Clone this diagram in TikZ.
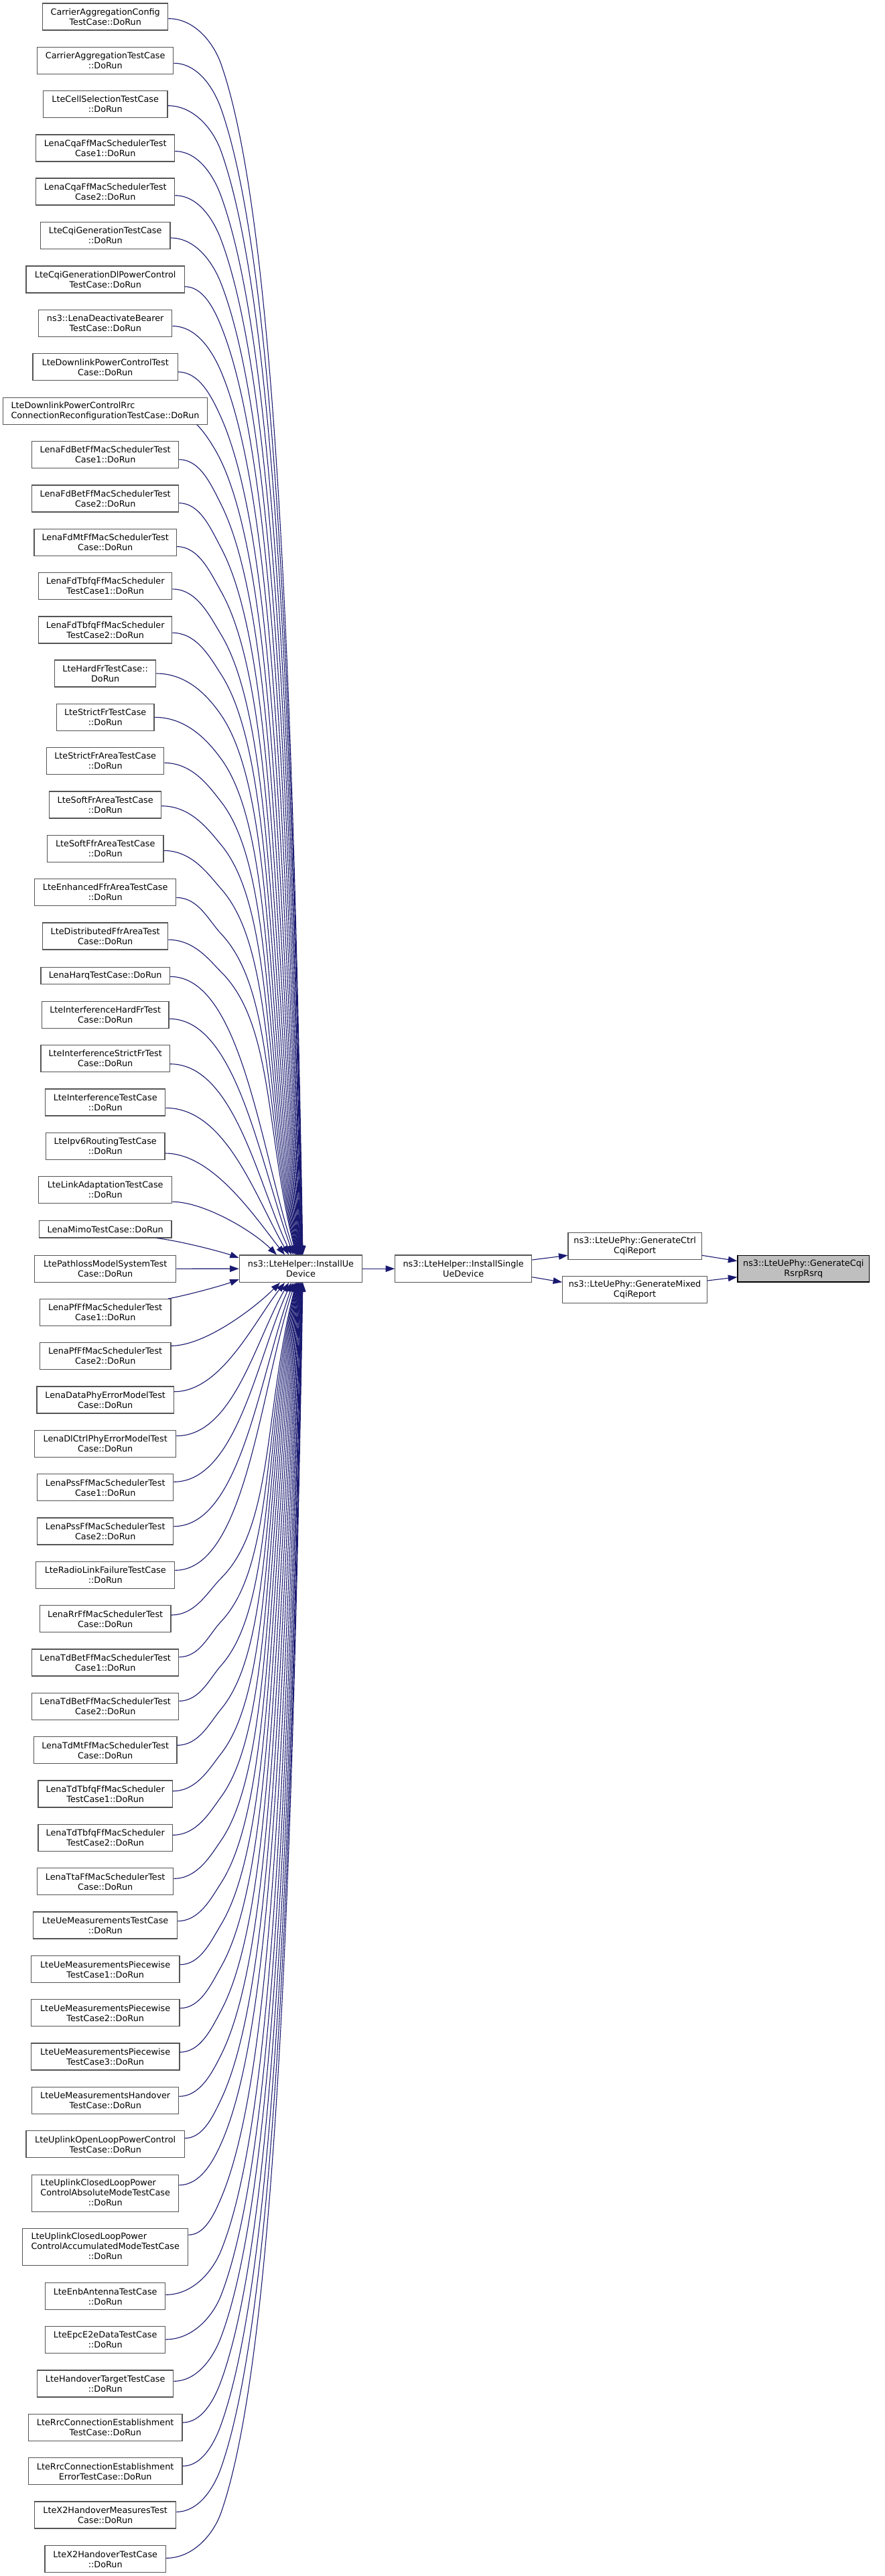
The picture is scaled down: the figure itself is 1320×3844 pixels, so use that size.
\documentclass[tikz,border=0pt]{standalone}
\usepackage{fontspec}
\setmainfont{DejaVu Sans}
\usetikzlibrary{arrows.meta,calc}
\definecolor{edgeblue}{HTML}{191970}
\definecolor{nodegray}{HTML}{555555}
\definecolor{focalfill}{HTML}{BFBFBF}
\newcommand\lnd[5]{\node[box, minimum width=#2pt, minimum height=#3pt] (n#1) at (157.2,#4) {#5};}
% far edge: #1 id, #2 rank, #3 sign, #4 yc, #5 xr, #6 dy, #7 dk, #8 anchor
\newcommand\faredge[8]{%
 \pgfmathsetmacro\fsy{#4+#6}%
 \pgfmathsetmacro\fky{\fsy+(#3)*#7}%
 \pgfmathsetmacro\fey{ifthenelse(#3>0,1873,1913.3)}%
 \pgfmathsetmacro\fxe{452-#2*10/21}%
 \pgfmathsetmacro\fD{abs(\fey-\fky)}%
 \pgfmathsetmacro\frr{0.35+0.0015*#2*#2}%
 \pgfmathsetmacro\fLo{min(0.3*\fD,0.7*(\fxe-330)/\frr)}%
 \pgfmathsetmacro\fpax{330+\frr*\fLo}%
 \pgfmathsetmacro\fpay{\fky+(#3)*\fLo}%
 \pgfmathsetmacro\fang{89-13*(#2/21)^2}%
 \pgfmathsetmacro\fLt{0.45*\fD}%
 \pgfmathsetmacro\fpbx{\fxe-\fLt*cos(\fang)}%
 \pgfmathsetmacro\fpby{\fey-(#3)*\fLt*sin(\fang)}%
 \pgfmathsetmacro\fcax{#5+0.5*(330-#5)}%
 \pgfmathsetmacro\fnn{sqrt(1+\frr*\frr)}%
 \pgfmathsetmacro\fcbx{330-0.5*#7*\frr/\fnn}%
 \pgfmathsetmacro\fcby{\fky-(#3)*0.5*#7/\fnn}%
 \pgfmathsetmacro\fexo{\fxe-449}%
 \draw[edge] ($(n#1.east)+(0,#6)$) .. controls (\fcax,\fsy) and (\fcbx,\fcby) .. (330,\fky)
   .. controls (\fpax,\fpay) and (\fpbx,\fpby) .. ($(iud.#8)+(\fexo,0)$);}
% near edge: #1 id, #2 dy, #3 xe, #4 h, #5 angle, #6 len, #7 sign, #8 anchor
\newcommand\nearedge[8]{%
 \pgfmathsetmacro\nexo{#3-449}%
 \pgfmathsetmacro\nqx{#3-449-#6*cos(#5)}%
 \pgfmathsetmacro\nqy{-(#7)*#6*sin(#5)}%
 \draw[edge] ($(n#1.east)+(0,#2)$) .. controls ($(n#1.east)+(#4,#2)$) and ($(iud.#8)+(\nqx,\nqy)$) .. ($(iud.#8)+(\nexo,0)$);}
\begin{document}
\begin{tikzpicture}[x=1pt,y=-1pt,
  box/.style={draw=nodegray, line width=1.2pt, fill=white, inner sep=0pt, align=center,
    font=\fontsize{12.8pt}{15pt}\selectfont},
  edge/.style={draw=edgeblue, line width=1.1pt, -{Triangle[length=13.5pt,width=9.5pt]}}]
\useasboundingbox (0,0) rectangle (1320,3844);
\fill[white] (0,0) rectangle (1320,3844);

% left column
\lnd{0}{187.0}{40}{25.0}{CarrierAggregationConfig\\TestCase::DoRun}
\lnd{1}{203.0}{40}{90.3}{CarrierAggregationTestCase\\::DoRun}
\lnd{2}{185.7}{40}{155.7}{LteCellSelectionTestCase\\::DoRun}
\lnd{3}{207.0}{40}{221.0}{LenaCqaFfMacSchedulerTest\\Case1::DoRun}
\lnd{4}{207.0}{40}{286.0}{LenaCqaFfMacSchedulerTest\\Case2::DoRun}
\lnd{5}{193.7}{40}{351.7}{LteCqiGenerationTestCase\\::DoRun}
\lnd{6}{236.3}{40}{417.0}{LteCqiGenerationDlPowerControl\\TestCase::DoRun}
\lnd{7}{199.0}{40}{482.3}{ns3::LenaDeactivateBearer\\TestCase::DoRun}
\lnd{8}{216.3}{40}{547.8}{LteDownlinkPowerControlTest\\Case::DoRun}
\node[box, align=left, minimum width=304.6pt, minimum height=40pt] (n9) at (157.0,613.3) {LteDownlinkPowerControlRrc\\ConnectionReconfigurationTestCase::DoRun};
\lnd{10}{219.0}{40}{678.7}{LenaFdBetFfMacSchedulerTest\\Case1::DoRun}
\lnd{11}{219.0}{40}{744.0}{LenaFdBetFfMacSchedulerTest\\Case2::DoRun}
\lnd{12}{212.3}{40}{809.3}{LenaFdMtFfMacSchedulerTest\\Case::DoRun}
\lnd{13}{199.0}{40}{874.7}{LenaFdTbfqFfMacScheduler\\TestCase1::DoRun}
\lnd{14}{199.0}{40}{940.0}{LenaFdTbfqFfMacScheduler\\TestCase2::DoRun}
\lnd{15}{151.0}{40}{1005.0}{LteHardFrTestCase::\\DoRun}
\lnd{16}{145.7}{40}{1070.3}{LteStrictFrTestCase\\::DoRun}
\lnd{17}{175.0}{40}{1135.7}{LteStrictFrAreaTestCase\\::DoRun}
\lnd{18}{167.0}{40}{1201.0}{LteSoftFrAreaTestCase\\::DoRun}
\lnd{19}{173.7}{40}{1266.3}{LteSoftFfrAreaTestCase\\::DoRun}
\lnd{20}{211.0}{40}{1331.7}{LteEnhancedFfrAreaTestCase\\::DoRun}
\lnd{21}{187.0}{40}{1397.0}{LteDistributedFfrAreaTest\\Case::DoRun}
\lnd{22}{192.6}{25.3}{1456.0}{LenaHarqTestCase::DoRun}
\lnd{23}{189.7}{40}{1514.3}{LteInterferenceHardFrTest\\Case::DoRun}
\lnd{24}{192.3}{40}{1579.7}{LteInterferenceStrictFrTest\\Case::DoRun}
\lnd{25}{179.0}{40}{1645.0}{LteInterferenceTestCase\\::DoRun}
\lnd{26}{177.7}{40}{1710.3}{LteIpv6RoutingTestCase\\::DoRun}
\lnd{27}{199.0}{40}{1775.7}{LteLinkAdaptationTestCase\\::DoRun}
\lnd{28}{197.7}{25.3}{1834.3}{LenaMimoTestCase::DoRun}
\lnd{29}{211.0}{40}{1893.3}{LtePathlossModelSystemTest\\Case::DoRun}
\lnd{30}{195.4}{40}{1958.7}{LenaPfFfMacSchedulerTest\\Case1::DoRun}
\lnd{31}{195.4}{40}{2023.7}{LenaPfFfMacSchedulerTest\\Case2::DoRun}
\lnd{32}{204.3}{40}{2089.0}{LenaDataPhyErrorModelTest\\Case::DoRun}
\lnd{33}{211.0}{40}{2154.3}{LenaDlCtrlPhyErrorModelTest\\Case::DoRun}
\lnd{34}{203.0}{40}{2219.7}{LenaPssFfMacSchedulerTest\\Case1::DoRun}
\lnd{35}{203.0}{40}{2285.0}{LenaPssFfMacSchedulerTest\\Case2::DoRun}
\lnd{36}{207.0}{40}{2350.3}{LteRadioLinkFailureTestCase\\::DoRun}
\lnd{37}{195.4}{40}{2415.7}{LenaRrFfMacSchedulerTest\\Case::DoRun}
\lnd{38}{219.0}{40}{2481.0}{LenaTdBetFfMacSchedulerTest\\Case1::DoRun}
\lnd{39}{219.0}{40}{2546.3}{LenaTdBetFfMacSchedulerTest\\Case2::DoRun}
\lnd{40}{213.7}{40}{2611.7}{LenaTdMtFfMacSchedulerTest\\Case::DoRun}
\lnd{41}{200.3}{40}{2677.0}{LenaTdTbfqFfMacScheduler\\TestCase1::DoRun}
\lnd{42}{200.3}{40}{2742.3}{LenaTdTbfqFfMacScheduler\\TestCase2::DoRun}
\lnd{43}{203.0}{40}{2807.7}{LenaTtaFfMacSchedulerTest\\Case::DoRun}
\lnd{44}{215.0}{40}{2873.0}{LteUeMeasurementsTestCase\\::DoRun}
\lnd{45}{221.7}{40}{2938.7}{LteUeMeasurementsPiecewise\\TestCase1::DoRun}
\lnd{46}{221.7}{40}{3003.7}{LteUeMeasurementsPiecewise\\TestCase2::DoRun}
\lnd{47}{221.7}{40}{3069.0}{LteUeMeasurementsPiecewise\\TestCase3::DoRun}
\lnd{48}{219.0}{40}{3134.3}{LteUeMeasurementsHandover\\TestCase::DoRun}
\lnd{49}{236.3}{40}{3199.7}{LteUplinkOpenLoopPowerControl\\TestCase::DoRun}
\lnd{50}{219.0}{55}{3273.2}{\begin{tabular}{@{}l@{}}LteUplinkClosedLoopPower\\ControlAbsoluteModeTestCase\\\multicolumn{1}{@{}c@{}}{::DoRun}\end{tabular}}
\lnd{51}{247.0}{54.7}{3353.0}{\begin{tabular}{@{}l@{}}LteUplinkClosedLoopPower\\ControlAccumulatedModeTestCase\\\multicolumn{1}{@{}c@{}}{::DoRun}\end{tabular}}
\lnd{52}{179.0}{40}{3426.7}{LteEnbAntennaTestCase\\::DoRun}
\lnd{53}{179.0}{40}{3491.7}{LteEpcE2eDataTestCase\\::DoRun}
\lnd{54}{203.0}{40}{3557.0}{LteHandoverTargetTestCase\\::DoRun}
\lnd{55}{229.7}{40}{3622.3}{LteRrcConnectionEstablishment\\TestCase::DoRun}
\lnd{56}{229.7}{40}{3687.7}{LteRrcConnectionEstablishment\\ErrorTestCase::DoRun}
\lnd{57}{211.0}{40}{3753.0}{LteX2HandoverMeasuresTest\\Case::DoRun}
\lnd{58}{180.3}{40}{3818.7}{LteX2HandoverTestCase\\::DoRun}

% middle and right
\node[box, minimum width=183.4pt, minimum height=40.3pt] (iud) at (449.0,1893.2) {ns3::LteHelper::InstallUe\\Device};
\node[box, minimum width=204pt, minimum height=40.3pt] (isud) at (691.7,1893.2) {ns3::LteHelper::InstallSingle\\UeDevice};
\node[box, minimum width=199.3pt, minimum height=40pt] (ctrl) at (947.7,1859.7) {ns3::LteUePhy::GenerateCtrl\\CqiReport};
\node[box, minimum width=215.6pt, minimum height=40pt] (mixed) at (947.5,1924.7) {ns3::LteUePhy::GenerateMixed\\CqiReport};
\node[box, draw=black, fill=focalfill, minimum width=196.7pt, minimum height=39.7pt] (cqi) at (1199.3,1893.2) {ns3::LteUePhy::GenerateCqi\\RsrpRsrq};

% far edges from the top
\faredge{0}{0}{1}{25.0}{250.7}{2.7}{68}{north}
\faredge{1}{1}{1}{90.3}{258.7}{4}{68}{north}
\faredge{2}{2}{1}{155.7}{250.0}{2}{68}{north}
\faredge{3}{3}{1}{221.0}{260.7}{4.7}{67}{north}
\faredge{4}{4}{1}{286.0}{260.7}{5.7}{66}{north}
\faredge{5}{5}{1}{351.7}{254.0}{3.3}{68}{north}
\faredge{6}{6}{1}{417.0}{275.3}{10.7}{59}{north}
\faredge{7}{7}{1}{482.3}{256.7}{4.3}{68}{north}
\faredge{8}{8}{1}{547.8}{265.3}{7.2}{68}{north}
\draw[edge] ($(n9.south east)+(-16,0)$) .. controls (303,642) and (319.3,665.4) .. (330,688)
   .. controls (412.4,862.7) and (416.1,1341) .. ($(iud.north)+(-1.3,0)$);
\faredge{10}{10}{1}{678.7}{266.7}{7}{67}{north}
\faredge{11}{11}{1}{744.0}{266.7}{6.7}{67}{north}
\faredge{12}{12}{1}{809.3}{263.3}{6.3}{67}{north}
\faredge{13}{13}{1}{874.7}{256.7}{4.3}{68}{north}
\faredge{14}{14}{1}{940.0}{256.7}{4.3}{62}{north}
\faredge{15}{15}{1}{1005.0}{232.7}{0}{62}{north}
\faredge{16}{16}{1}{1070.3}{230.0}{0}{62}{north}
\faredge{17}{17}{1}{1135.7}{244.7}{2.7}{58}{north}
\faredge{18}{18}{1}{1201.0}{240.7}{1.7}{58}{north}
\faredge{19}{19}{1}{1266.3}{244.0}{3}{57}{north}
\faredge{20}{20}{1}{1331.7}{262.7}{7.7}{54}{north}
\faredge{21}{21}{1}{1397.0}{250.7}{5.3}{48}{north}
% near edges from the top
\nearedge{22}{1.3}{440.5}{105}{72}{170}{1}{north}
\nearedge{23}{6}{438}{100}{70}{150}{1}{north}
\nearedge{24}{8}{435}{95}{65}{120}{1}{north}
\nearedge{25}{8.3}{431}{90}{60}{100}{1}{north}
\nearedge{26}{10.7}{425}{70}{52}{75}{1}{north}
\nearedge{27}{17.6}{413}{46}{45}{52}{1}{north}
% side edges
\draw[edge] ($(n28.south east)+(-22.7,0)$) .. controls ($(n28.south east)+(17,5)$) and ($(iud.west)+(-22,-24)$) .. ($(iud.west)+(0,-16)$);
\draw[edge] (n29.east) -- (iud.west);
\draw[edge] ($(n30.north east)+(-4.7,0)$) .. controls ($(n30.north east)+(35,-8)$) and ($(iud.west)+(-22,24)$) .. ($(iud.west)+(0,16)$);
% near edges from below
\nearedge{31}{-15.4}{418}{50}{45}{55}{-1}{south}
\nearedge{32}{-12.3}{425}{70}{52}{75}{-1}{south}
\nearedge{33}{-11.6}{431}{85}{60}{100}{-1}{south}
\nearedge{34}{-8.4}{435}{95}{65}{120}{-1}{south}
\nearedge{35}{-7.3}{438}{100}{70}{150}{-1}{south}
\nearedge{36}{-7}{440.5}{105}{72}{170}{-1}{south}
% far edges from below
\faredge{37}{21}{-1}{2415.7}{254.7}{-5.7}{55}{south}
\faredge{38}{20}{-1}{2481.0}{266.7}{-8.3}{53}{south}
\faredge{39}{19}{-1}{2546.3}{266.7}{-8}{53}{south}
\faredge{40}{18}{-1}{2611.7}{264.0}{-7.4}{54}{south}
\faredge{41}{17}{-1}{2677.0}{257.3}{-4.3}{56}{south}
\faredge{42}{16}{-1}{2742.3}{257.3}{-4}{57}{south}
\faredge{43}{15}{-1}{2807.7}{258.7}{-4.4}{57}{south}
\faredge{44}{14}{-1}{2873.0}{264.7}{-6.3}{57}{south}
\faredge{45}{13}{-1}{2938.7}{268.0}{-7}{60}{south}
\faredge{46}{12}{-1}{3003.7}{268.0}{-7}{62}{south}
\faredge{47}{11}{-1}{3069.0}{268.0}{-6.7}{62}{south}
\faredge{48}{10}{-1}{3134.3}{266.7}{-6}{62}{south}
\faredge{49}{9}{-1}{3199.7}{275.3}{-9}{58}{south}
\faredge{50}{8}{-1}{3273.2}{266.7}{-12.5}{62}{south}
\faredge{51}{7}{-1}{3353.0}{280.7}{-18}{55}{south}
\faredge{52}{6}{-1}{3426.7}{246.7}{-2.4}{66}{south}
\faredge{53}{5}{-1}{3491.7}{246.7}{-0.7}{66}{south}
\faredge{54}{4}{-1}{3557.0}{258.7}{-3.7}{66}{south}
\faredge{55}{3}{-1}{3622.3}{272.0}{-7.3}{62}{south}
\faredge{56}{2}{-1}{3687.7}{272.0}{-7.7}{62}{south}
\faredge{57}{1}{-1}{3753.0}{262.7}{-4.7}{66}{south}
\faredge{58}{0}{-1}{3818.7}{247.3}{-1.4}{68}{south}

% right part
\draw[edge] (iud.east) -- (isud.west);
\draw[edge] ($(isud.east)+(0,-13.2)$) -- ($(ctrl.west)+(0,13.6)$);
\draw[edge] ($(isud.east)+(0,12.5)$) -- ($(mixed.west)+(0,-11.4)$);
\draw[edge] ($(ctrl.east)+(0,13.6)$) -- ($(cqi.west)+(0,-11.5)$);
\draw[edge] ($(mixed.east)+(0,-13.7)$) -- ($(cqi.west)+(0,12.5)$);
\end{tikzpicture}
\end{document}
